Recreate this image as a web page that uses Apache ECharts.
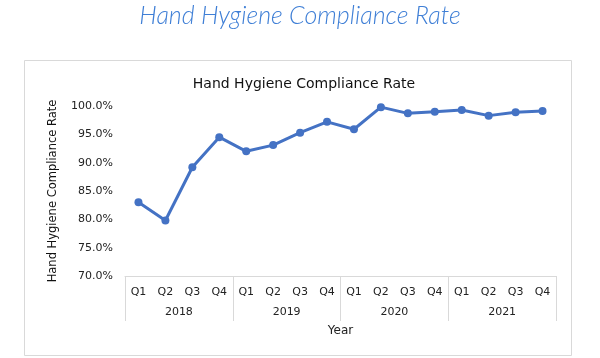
<!DOCTYPE html>
<html>
<head>
<meta charset="utf-8">
<script src="https://cdn.jsdelivr.net/npm/echarts@6/dist/echarts.min.js"></script>
<style>
html,body{margin:0;padding:0;background:#fff;}
#chart{width:600px;height:358px;}
</style>
</head>
<body>
<div id="chart"></div>
<script>
var quarters = ['Q1','Q2','Q3','Q4','Q1','Q2','Q3','Q4','Q1','Q2','Q3','Q4','Q1','Q2','Q3','Q4'];
var years = ['2018','2019','2020','2021'];
var complianceRate = [83.0, 79.8, 89.2, 94.5, 92.0, 93.1, 95.3, 97.2, 95.9, 99.8, 98.7, 99.0, 99.3, 98.3, 98.9, 99.1];
var yTicks = { min: 70, max: 100, step: 5 };

var chart = echarts.init(document.getElementById('chart'), null, {renderer:'canvas'});
var font = '"DejaVu Sans", sans-serif';
chart.setOption({
  backgroundColor: '#fff',
  animation: false,
  graphic: [
    { type: 'rect', shape: { x: 24.5, y: 60.5, width: 547, height: 295 }, style: { fill: 'none', stroke: '#d9d9d9', lineWidth: 1 }, z: -1 },
    { type: 'text', left: 'center', top: 3, style: { text: 'Hand Hygiene Compliance Rate', fill: '#3f7fd6', font: 'italic 300 25px Lato, "DejaVu Sans", sans-serif' } }
  ],
  title: {
    text: 'Hand Hygiene Compliance Rate',
    left: 299, textAlign: 'center', top: 72,
    textStyle: { fontFamily: font, fontSize: 14, fontWeight: 'normal', color: '#111' }
  },
  grid: { left: 125, right: 44, top: 106, bottom: 82 },
  xAxis: [
    {
      type: 'category', data: quarters, position: 'bottom', boundaryGap: true,
      axisLine: { show: true, lineStyle: { color: '#d9d9d9', width: 1 } },
      axisTick: { show: false },
      axisLabel: { color: '#222', fontFamily: font, fontSize: 11, margin: 11, interval: 0 },
      name: 'Year', nameLocation: 'middle', nameGap: 49,
      nameTextStyle: { color: '#222', fontFamily: font, fontSize: 12 }
    },
    {
      type: 'category', data: years, position: 'bottom', boundaryGap: true,
      axisLine: { show: false },
      axisTick: { show: true, length: 45, lineStyle: { color: '#d9d9d9', width: 1 }, alignWithLabel: false },
      axisLabel: { color: '#222', fontFamily: font, fontSize: 11, margin: 31, interval: 0 }
    }
  ],
  yAxis: {
    type: 'value', min: yTicks.min, max: yTicks.max, interval: yTicks.step,
    axisLine: { show: false }, axisTick: { show: false },
    splitLine: { show: false },
    axisLabel: { color: '#222', fontFamily: font, fontSize: 11, margin: 12, formatter: function(v){ return v.toFixed(1) + '%'; } },
    name: 'Hand Hygiene Compliance Rate', nameLocation: 'middle', nameGap: 66, nameRotate: 90,
    nameTextStyle: { color: '#111', fontFamily: font, fontSize: 11.5 }
  },
  series: [{
    type: 'line', data: complianceRate, xAxisIndex: 0,
    symbol: 'circle', symbolSize: 8,
    lineStyle: { color: '#4472C4', width: 3 },
    itemStyle: { color: '#4472C4' }
  }]
});
</script>
</body>
</html>
